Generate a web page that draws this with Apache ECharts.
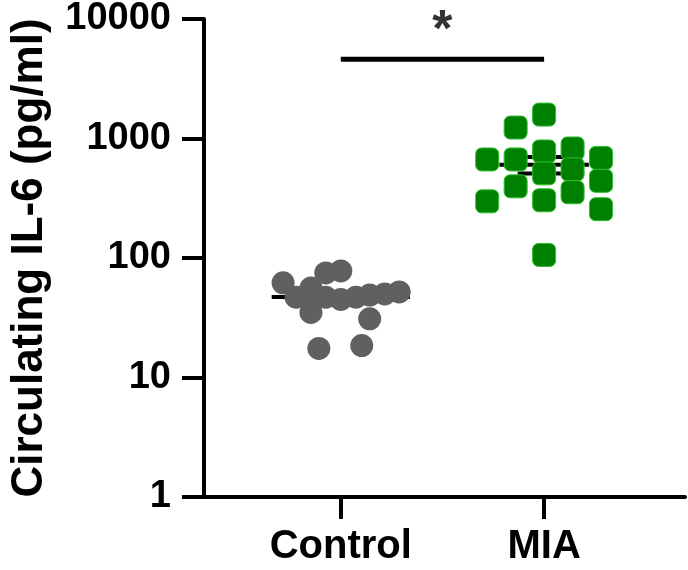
<!DOCTYPE html>
<html>
<head>
<meta charset="utf-8">
<script src="https://cdn.jsdelivr.net/npm/echarts@6/dist/echarts.min.js"></script>
<style>
html,body{margin:0;padding:0;background:#fff;}
#chart{width:688px;height:570px;}
</style>
</head>
<body>
<div id="chart"></div>
<script>
// ---- data ----
const categories = ['Control', 'MIA'];
const yTicks = [1, 10, 100, 1000, 10000];
// horizontal jitter (in category units) and values, pg/ml
const controlJitter = [-0.284, -0.074, 0, -0.147, -0.22, -0.137, -0.074, 0, 0.074, 0.142, 0.216, 0.287, -0.147, 0.142, -0.108, 0.103];
const controlValues = [62, 75, 78, 56, 47, 45, 47, 45, 47, 49, 50, 52, 35, 31, 17.5, 18.5];
const miaJitter = [-0.28, -0.28, -0.14, -0.14, -0.14, 0, 0, 0, 0, 0, 0.14, 0.14, 0.14, 0.28, 0.28, 0.28];
const miaValues = [668, 298, 1235, 668, 398, 1585, 779, 511, 304, 106, 825, 552, 355, 688, 442, 256];
const sigBarValue = 4600;
const sigStarValue = 7800;
const sigLabel = '*';

// ---- helpers ----
function mean(a){ return a.reduce((s,v)=>s+v,0)/a.length; }
function sem(a){ const m=mean(a); const v=a.reduce((s,x)=>s+(x-m)*(x-m),0)/(a.length-1); return Math.sqrt(v/a.length); }

const groups = [
  {pos:1, jit:controlJitter, vals:controlValues, meanHW:0.34},
  {pos:2, jit:miaJitter, vals:miaValues, meanHW:0.22}
];
const capHW = 0.13;

const lineStyleBlack = {color:'#000', width:4, cap:'butt'};
const series = [];
groups.forEach(g=>{
  const m = mean(g.vals), s = sem(g.vals);
  const lines = [
    [[g.pos-g.meanHW, m],[g.pos+g.meanHW, m]],
    [[g.pos, m-s],[g.pos, m+s]],
    [[g.pos-capHW, m+s],[g.pos+capHW, m+s]],
    [[g.pos-capHW, m-s],[g.pos+capHW, m-s]]
  ];
  lines.forEach(d=>series.push({type:'line', data:d, symbol:'none', silent:true, z:1, lineStyle:lineStyleBlack, animation:false}));
});

series.push({
  type:'scatter', name:'Control', z:3, animation:false,
  symbol:'circle', symbolSize:23,
  itemStyle:{color:'#606060', opacity:1},
  data: controlValues.map((v,i)=>[1+controlJitter[i], v])
});
series.push({
  type:'scatter', name:'MIA', z:3, animation:false,
  symbol:'roundRect', symbolSize:23,
  itemStyle:{color:'#008000', borderColor:'#2fbf2f', borderWidth:1, opacity:1},
  data: miaValues.map((v,i)=>[2+miaJitter[i], v])
});
// significance bar
series.push({type:'line', data:[[1, sigBarValue],[2, sigBarValue]], symbol:'none', silent:true, z:2, animation:false,
  lineStyle:{color:'#000', width:5, cap:'butt'}});
series.push({type:'scatter', data:[[1.5, sigStarValue]], symbolSize:1, silent:true, animation:false,
  itemStyle:{color:'rgba(0,0,0,0)'},
  label:{show:true, position:'inside', formatter:sigLabel, color:'#000', fontSize:52, fontWeight:'bold', fontFamily:'Liberation Sans, Arial, sans-serif'}});

const chart = echarts.init(document.getElementById('chart'), null, {renderer:'canvas'});
const font = 'Liberation Sans, Arial, sans-serif';
chart.setOption({
  backgroundColor:'#fff',
  animation:false,
  grid:{left:200, right:3, top:17, bottom:73, containLabel:false},
  xAxis:{
    type:'value', min:0.327, max:2.693,
    axisLine:{show:true, onZero:false, lineStyle:{color:'#000', width:4}},
    axisTick:{show:true, customValues:[1,2], length:22, lineStyle:{color:'#000', width:4}},
    axisLabel:{show:true, customValues:[1,2], formatter:v=>categories[Math.round(v)-1], margin:30,
      fontSize:40, fontWeight:'bold', color:'#000', fontFamily:font},
    splitLine:{show:false}
  },
  yAxis:{
    type:'log', logBase:10, min:yTicks[0], max:yTicks[yTicks.length-1],
    name:'Circulating IL-6 (pg/ml)', nameLocation:'middle', nameGap:152,
    nameTextStyle:{fontSize:44, fontWeight:'bold', color:'#000', fontFamily:font},
    axisLine:{show:true, lineStyle:{color:'#000', width:4}},
    axisTick:{show:true, length:22, lineStyle:{color:'#000', width:4}},
    axisLabel:{show:true, margin:33, fontSize:38, fontWeight:'bold', color:'#000', fontFamily:font,
      formatter:v=>String(Math.round(v))},
    splitLine:{show:false}, minorTick:{show:false}
  },
  series: series
});
</script>
</body>
</html>
